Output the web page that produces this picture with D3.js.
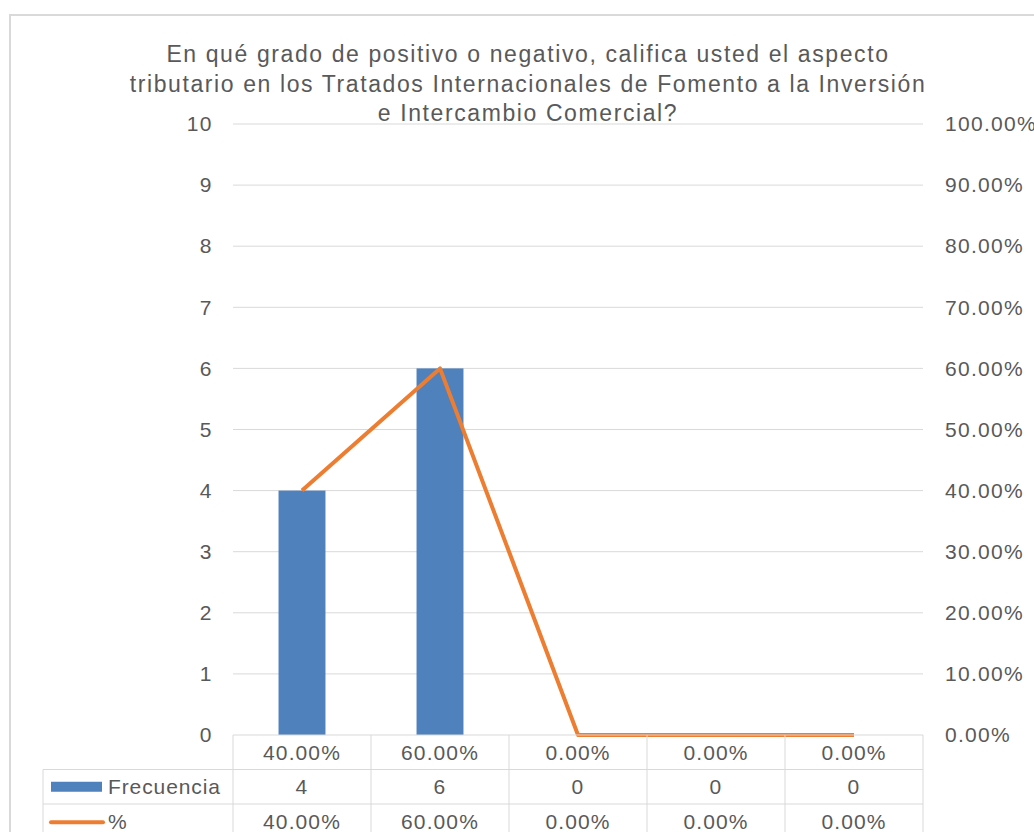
<!DOCTYPE html>
<html>
<head>
<meta charset="utf-8">
<title>Aspecto tributario</title>
<script src="https://d3js.org/d3.v7.min.js"></script>
<style>
  body { margin: 0; background: #fff; }
  svg text { font-family: "Liberation Sans", Arial, sans-serif; fill: #595959; }
</style>
</head>
<body>
<svg width="1034" height="832"></svg>
<script>
const categories = ["40.00%", "60.00%", "0.00%", "0.00%", "0.00%"];
const frecuencia = [4, 6, 0, 0, 0];
const porcentaje = [0.40, 0.60, 0, 0, 0];
const leftTicks = [0, 1, 2, 3, 4, 5, 6, 7, 8, 9, 10];
const rightTicks = [0, 0.1, 0.2, 0.3, 0.4, 0.5, 0.6, 0.7, 0.8, 0.9, 1.0];
const titleLines = [
  "En qué grado de positivo o negativo, califica usted el aspecto",
  "tributario en los Tratados Internacionales de Fomento a la Inversión",
  "e Intercambio Comercial?"
];

const svg = d3.select("svg");
const grid = "#d9d9d9";
const plot = {left: 233, right: 923, top: 124, bottom: 735};
const rowH = 34.5;

// chart frame (cut off on right and bottom)
svg.append("path")
  .attr("d", "M10,840 L10,15 L1040,15")
  .attr("fill", "none").attr("stroke", grid).attr("stroke-width", 2);

const x = d3.scaleBand()
  .domain(d3.range(categories.length))
  .range([plot.left, plot.right]);

const y = d3.scaleLinear().domain([0, 10]).range([plot.bottom, plot.top]);
const y2 = d3.scaleLinear().domain([0, 1]).range([plot.bottom, plot.top]);

// gridlines
svg.append("g").selectAll("line").data(leftTicks.slice(1)).join("line")
  .attr("x1", plot.left).attr("x2", plot.right)
  .attr("y1", d => y(d)).attr("y2", d => y(d))
  .attr("stroke", grid).attr("stroke-width", 1);

// left axis
const yAxis = svg.append("g")
  .attr("transform", "translate(" + plot.left + ",0)")
  .call(d3.axisLeft(y).tickValues(leftTicks).tickSize(0).tickPadding(20));
yAxis.select(".domain").remove();
yAxis.selectAll("text").style("font-size", "21px").style("letter-spacing", "1.5px")
  .attr("font-family", null).attr("fill", "#595959");

// right axis (100.00% runs off the edge, as in the original)
const y2Axis = svg.append("g")
  .attr("transform", "translate(" + plot.right + ",0)")
  .call(d3.axisRight(y2).tickValues(rightTicks).tickSize(0).tickPadding(22)
    .tickFormat(d => (d * 100).toFixed(2) + "%"));
y2Axis.select(".domain").remove();
y2Axis.selectAll("text").style("font-size", "21px").style("letter-spacing", "1.3px")
  .attr("font-family", null).attr("fill", "#595959");

// bars
const barW = x.bandwidth() * 0.34;
svg.append("g").selectAll("rect").data(frecuencia).join("rect")
  .attr("x", (d, i) => x(i) + x.bandwidth() / 2 - barW / 2)
  .attr("y", d => y(d))
  .attr("width", barW)
  .attr("height", d => y(0) - y(d))
  .attr("fill", "#4F81BD");

// line
const line = d3.line()
  .x((d, i) => x(i) + x.bandwidth() / 2)
  .y(d => y2(d));
svg.append("path")
  .datum(porcentaje)
  .attr("d", line)
  .attr("fill", "none")
  .attr("stroke", "#ED7D31")
  .attr("stroke-width", 4)
  .attr("stroke-linejoin", "round");

// title
svg.append("g").selectAll("text").data(titleLines).join("text")
  .attr("x", 528)
  .attr("y", (d, i) => 62 + i * 29.5)
  .attr("text-anchor", "middle")
  .style("font-size", "23px")
  .style("letter-spacing", "1.6px")
  .text(d => d);

// data table
const tbl = svg.append("g");
const tableTop = plot.bottom;
const legendLeft = 43;
const rows = [tableTop, tableTop + rowH, tableTop + 2 * rowH, tableTop + 3 * rowH];

// horizontal lines
tbl.append("line").attr("x1", plot.left).attr("x2", plot.right)
  .attr("y1", rows[0]).attr("y2", rows[0]).attr("stroke", grid);
[rows[1], rows[2], rows[3]].forEach(yy => {
  tbl.append("line").attr("x1", legendLeft).attr("x2", plot.right)
    .attr("y1", yy).attr("y2", yy).attr("stroke", grid);
});
// vertical lines
d3.range(categories.length + 1).forEach(i => {
  const xx = plot.left + i * x.bandwidth();
  tbl.append("line").attr("x1", xx).attr("x2", xx)
    .attr("y1", rows[0]).attr("y2", 840).attr("stroke", grid);
});
tbl.append("line").attr("x1", legendLeft).attr("x2", legendLeft)
  .attr("y1", rows[1]).attr("y2", 840).attr("stroke", grid);

const cell = (txt, i, r) => tbl.append("text")
  .attr("x", x(i) + x.bandwidth() / 2)
  .attr("y", rows[r] + rowH / 2)
  .attr("dy", "0.35em")
  .attr("text-anchor", "middle")
  .style("font-size", "21px")
  .style("letter-spacing", "1.1px")
  .text(txt);

categories.forEach((c, i) => cell(c, i, 0));
frecuencia.forEach((v, i) => cell(String(v), i, 1));
porcentaje.forEach((v, i) => cell((v * 100).toFixed(2) + "%", i, 2));

// legend keys
tbl.append("rect").attr("x", 51).attr("y", rows[1] + rowH / 2 - 5)
  .attr("width", 51).attr("height", 10).attr("fill", "#4F81BD");
tbl.append("line").attr("x1", 51).attr("x2", 103)
  .attr("y1", rows[2] + rowH / 2 + 1).attr("y2", rows[2] + rowH / 2 + 1)
  .attr("stroke", "#ED7D31").attr("stroke-width", 4).attr("stroke-linecap", "round");
tbl.append("text").attr("x", 108).attr("y", rows[1] + rowH / 2).attr("dy", "0.35em")
  .style("font-size", "21px").style("letter-spacing", "0.9px").text("Frecuencia");
tbl.append("text").attr("x", 108).attr("y", rows[2] + rowH / 2).attr("dy", "0.35em")
  .style("font-size", "21px").text("%");
</script>
</body>
</html>
